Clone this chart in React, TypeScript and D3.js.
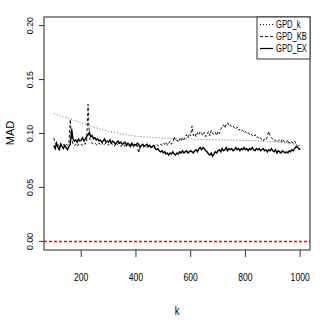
import React from "react";
import * as d3 from "d3";

// k grid for the noisy series (every 5 from 100 to 1000)
const kStart = 100;
const kStep = 5;

const GPD_k_K = [100,150,200,250,300,350,400,450,500,550,600,650,700,750,800,850,900,950,1000];
const GPD_k = [0.1185,0.1145,0.1100,0.1055,0.1020,0.0995,0.0975,0.0965,0.0958,0.0953,0.0948,0.0945,0.0942,0.0938,0.0935,0.0932,0.0925,0.0915,0.0890];

const GPD_KB = [
  0.096,0.091,0.089,0.090,0.088,0.091,0.089,0.090,0.088,0.090,
  0.089,0.091,0.113,0.096,0.090,0.089,0.090,0.088,0.090,0.089,
  0.090,0.089,0.091,0.090,0.093,0.127,0.096,0.092,0.091,0.090,
  0.091,0.090,0.089,0.091,0.090,0.092,0.089,0.090,0.091,0.089,
  0.090,0.089,0.091,0.090,0.088,0.090,0.089,0.091,0.090,0.088,
  0.089,0.090,0.088,0.090,0.089,0.088,0.090,0.089,0.087,0.089,
  0.088,0.089,0.082,0.088,0.089,0.087,0.088,0.089,0.087,0.088,
  0.089,0.088,0.087,0.089,0.088,0.090,0.089,0.088,0.090,0.089,
  0.091,0.090,0.092,0.089,0.091,0.093,0.090,0.092,0.097,0.093,
  0.094,0.092,0.095,0.093,0.096,0.094,0.097,0.099,0.096,0.100,
  0.098,0.107,0.098,0.100,0.097,0.101,0.099,0.102,0.100,0.098,
  0.101,0.097,0.099,0.102,0.098,0.103,0.100,0.099,0.101,0.098,
  0.102,0.100,0.104,0.106,0.108,0.105,0.109,0.110,0.107,0.108,
  0.106,0.107,0.105,0.104,0.106,0.103,0.104,0.102,0.103,0.101,
  0.102,0.100,0.101,0.099,0.100,0.098,0.097,0.099,0.096,0.097,
  0.095,0.096,0.094,0.093,0.095,0.094,0.097,0.102,0.098,0.096,
  0.095,0.093,0.094,0.092,0.093,0.094,0.092,0.095,0.093,0.091,
  0.092,0.094,0.091,0.093,0.092,0.091,0.093,0.090,0.088,0.089,
  0.087,
];

const GPD_EX = [
  0.089,0.086,0.091,0.087,0.085,0.090,0.088,0.086,0.089,0.087,
  0.085,0.088,0.090,0.104,0.095,0.093,0.094,0.092,0.095,0.093,
  0.094,0.096,0.093,0.095,0.097,0.099,0.101,0.097,0.098,0.095,
  0.096,0.094,0.095,0.093,0.094,0.092,0.093,0.095,0.092,0.093,
  0.092,0.094,0.091,0.093,0.092,0.090,0.092,0.093,0.091,0.092,
  0.090,0.091,0.092,0.089,0.091,0.090,0.088,0.091,0.089,0.090,
  0.089,0.091,0.090,0.087,0.089,0.090,0.088,0.089,0.090,0.088,
  0.089,0.087,0.088,0.089,0.086,0.085,0.086,0.084,0.083,0.084,
  0.082,0.083,0.081,0.082,0.080,0.082,0.081,0.083,0.081,0.080,
  0.082,0.081,0.083,0.082,0.084,0.082,0.083,0.084,0.082,0.083,
  0.084,0.083,0.082,0.084,0.085,0.083,0.086,0.087,0.085,0.087,
  0.086,0.084,0.083,0.081,0.080,0.082,0.079,0.081,0.083,0.082,
  0.084,0.085,0.083,0.086,0.084,0.085,0.087,0.084,0.086,0.085,
  0.086,0.084,0.085,0.087,0.085,0.086,0.084,0.086,0.085,0.087,
  0.085,0.086,0.084,0.086,0.085,0.087,0.085,0.084,0.086,0.085,
  0.086,0.084,0.085,0.086,0.084,0.085,0.083,0.085,0.084,0.086,
  0.084,0.083,0.085,0.082,0.084,0.083,0.082,0.084,0.083,0.082,
  0.083,0.082,0.084,0.083,0.085,0.084,0.086,0.088,0.087,0.086,
  0.085,
];

const xTicks = [200, 400, 600, 800, 1000];
const yTicks = [0, 0.05, 0.1, 0.15, 0.2];
const yTickLabels = ["0.00", "0.05", "0.10", "0.15", "0.20"];
const legendLabels = ["GPD_k", "GPD_KB", "GPD_EX"];
const legendDash = ["1,2", "3,2", ""];

const FONT = "'Liberation Sans', Arial, Helvetica, sans-serif";
const SY = 1.35;

function HText({ x, y, size, children, anchor = "middle" }: any) {
  return (
    <text
      transform={`translate(${x},${y}) scale(1,${SY})`}
      fontSize={size}
      fontFamily={FONT}
      textAnchor={anchor}
      dominantBaseline="central"
      fill="#000"
    >
      {children}
    </text>
  );
}

function VText({ x, y, size, children }: any) {
  return (
    <text
      transform={`translate(${x},${y}) rotate(-90)`}
      fontSize={size}
      fontFamily={FONT}
      textAnchor="middle"
      dominantBaseline="central"
      fill="#000"
    >
      {children}
    </text>
  );
}

export default function App() {
  const left = 44, right = 310, top = 17, bottom = 250;
  const x = d3.scaleLinear().domain([64, 1036]).range([left, right]);
  const y = d3.scaleLinear().domain([-0.008, 0.208]).range([bottom, top]);

  const kOf = (i: number) => kStart + i * kStep;
  const line = d3
    .line<number>()
    .x((_, i) => x(kOf(i)))
    .y((d) => y(d));
  const lineK = d3
    .line<number>()
    .x((_, i) => x(GPD_k_K[i]))
    .y((d) => y(d));

  const legY = [24.5, 36.5, 48.5];
  const y0 = Math.round(y(0)) + 0.5;

  return (
    <svg width={320} height={327} style={{ position: "absolute", left: 0, top: 0, background: "#fff" }}>
      <rect x={0} y={0} width={320} height={327} fill="#fff" />
      {/* data */}
      <path d={lineK(GPD_k) || ""} fill="none" stroke="#444" strokeWidth={0.8} strokeDasharray="1,2" />
      <path d={line(GPD_KB) || ""} fill="none" stroke="#000" strokeWidth={0.9} strokeDasharray="3,2" />
      <path d={line(GPD_EX) || ""} fill="none" stroke="#000" strokeWidth={1.4} />
      {/* zero line */}
      <line x1={left} x2={right} y1={y0} y2={y0} stroke="#ff0000" strokeWidth={1.3} strokeDasharray="3,2" />
      {/* box */}
      <rect x={left} y={top} width={right - left} height={bottom - top} fill="none" stroke="#222" strokeWidth={1} />
      {/* x axis */}
      {xTicks.map((t) => (
        <g key={t}>
          <line x1={x(t)} x2={x(t)} y1={bottom} y2={bottom + 7} stroke="#333" />
          <HText x={x(t)} y={277} size={8.6}>{t}</HText>
        </g>
      ))}
      {/* y axis */}
      {yTicks.map((t, i) => (
        <g key={t}>
          <line x1={left - 5} x2={left} y1={y(t)} y2={y(t)} stroke="#333" />
          <VText x={30} y={y(t)} size={8.8}>{yTickLabels[i]}</VText>
        </g>
      ))}
      <HText x={177} y={310} size={9.5}>k</HText>
      <VText x={10} y={133} size={11}>MAD</VText>
      {/* legend */}
      <rect x={257} y={top} width={right - 257} height={42} fill="#fff" stroke="#333" strokeWidth={1} />
      {legendLabels.map((l, i) => (
        <g key={l}>
          <line x1={260} x2={273} y1={legY[i]} y2={legY[i]} stroke="#000" strokeWidth={i === 2 ? 1.2 : 0.9}
            strokeDasharray={legendDash[i] || undefined} />
          <HText x={276} y={legY[i]} size={7.6} anchor="start">{l}</HText>
        </g>
      ))}
    </svg>
  );
}
